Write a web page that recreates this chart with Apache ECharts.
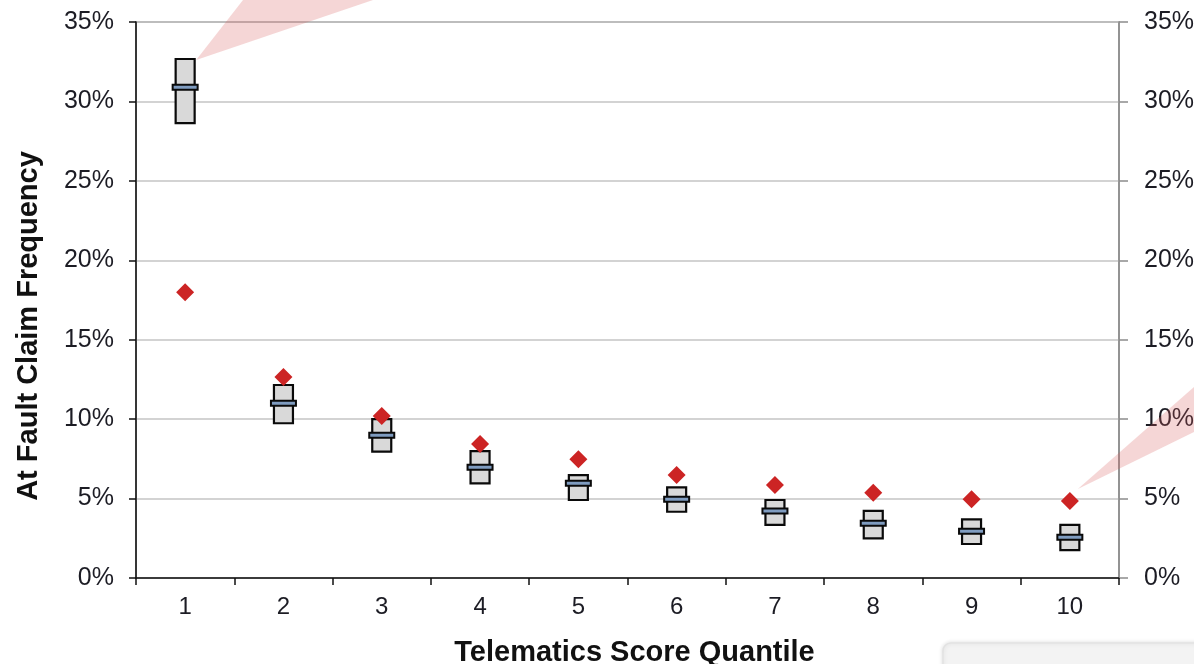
<!DOCTYPE html>
<html>
<head>
<meta charset="utf-8">
<script src="https://cdn.jsdelivr.net/npm/echarts@6/dist/echarts.min.js"></script>
<style>
html,body{margin:0;padding:0;background:#fff;}
#chart{width:1194px;height:664px;}
</style>
</head>
<body>
<div id="chart"></div>
<script>
// ---- data (values in %) ----
var categories = ['1','2','3','4','5','6','7','8','9','10'];
var meanVals   = [30.9, 11.0, 8.98, 6.97, 5.96, 4.95, 4.22, 3.44, 2.94, 2.56];
var lowVals    = [28.64, 9.74, 7.95, 5.96, 4.91, 4.17, 3.34, 2.50, 2.14, 1.76];
var highVals   = [32.67, 12.15, 10.0, 7.99, 6.48, 5.71, 4.91, 4.22, 3.69, 3.34];
var markerVals = [17.98, 12.65, 10.2, 8.44, 7.47, 6.48, 5.85, 5.37, 4.95, 4.85];
var yTicks = { min: 0, max: 35, interval: 5 };

var FONT = 'Liberation Sans, Arial, sans-serif';
var boxData = categories.map(function (c, i) { return [i, lowVals[i], highVals[i], meanVals[i]]; });

var chart = echarts.init(document.getElementById('chart'));
chart.setOption({
  animation: false,
  backgroundColor: '#fff',
  grid: { left: 136, right: 75, top: 22, bottom: 86, outerBoundsMode: 'none', containLabel: false,
          show: true, borderColor: '#8c8c8c', borderWidth: 1.5, backgroundColor: 'transparent' },
  xAxis: {
    type: 'category', data: categories, boundaryGap: true,
    name: 'Telematics Score Quantile', nameLocation: 'middle', nameGap: 60,
    nameTextStyle: { fontFamily: FONT, fontWeight: 'bold', fontSize: 29, color: '#111', padding: [0, 0, 0, 14] },
    axisLine: { lineStyle: { color: '#111', width: 1.5 } },
    axisTick: { show: true, length: 7, interval: 0, lineStyle: { color: '#111', width: 1.5 } },
    axisLabel: { fontFamily: FONT, fontSize: 24, color: '#1c1c24', margin: 17 },
    splitLine: { show: false }
  },
  yAxis: [{
    type: 'value', min: yTicks.min, max: yTicks.max, interval: yTicks.interval, position: 'left',
    name: 'At Fault Claim Frequency', nameLocation: 'middle', nameGap: 93,
    nameTextStyle: { fontFamily: FONT, fontWeight: 'bold', fontSize: 29, color: '#111', padding: [0, 52, 0, 0] },
    axisLine: { show: true, lineStyle: { color: '#111', width: 1.5 } },
    axisTick: { show: true, length: 7, lineStyle: { color: '#111', width: 1.5 } },
    axisLabel: { fontFamily: FONT, fontSize: 25, color: '#1c1c24', margin: 22, formatter: '{value}%' },
    splitLine: { show: true, lineStyle: { color: '#c4c4c4', width: 1.5 } }
  }, {
    type: 'value', min: yTicks.min, max: yTicks.max, interval: yTicks.interval, position: 'right',
    axisLine: { show: true, lineStyle: { color: '#8c8c8c', width: 1.5 } },
    axisTick: { show: true, length: 9, lineStyle: { color: '#8c8c8c', width: 1.5 } },
    axisLabel: { fontFamily: FONT, fontSize: 25, color: '#1c1c24', margin: 25, formatter: '{value}%' },
    splitLine: { show: false }
  }],
  series: [{
    type: 'custom',
    data: boxData,
    encode: { x: 0, y: [1, 2, 3] },
    z: 3,
    renderItem: function (params, api) {
      var x = api.value(0);
      var lo = api.coord([x, api.value(1)]);
      var hi = api.coord([x, api.value(2)]);
      var mid = api.coord([x, api.value(3)]);
      var bw = 19, mw = 25, mh = 5;
      return {
        type: 'group',
        children: [{
          type: 'rect',
          shape: { x: lo[0] - bw / 2, y: hi[1], width: bw, height: lo[1] - hi[1] },
          style: { fill: '#d9d9d9', stroke: '#0a0a0a', lineWidth: 2.2 }
        }, {
          type: 'rect',
          shape: { x: mid[0] - mw / 2, y: mid[1] - mh / 2, width: mw, height: mh },
          style: { fill: '#7f9cc0', stroke: '#0a0a0a', lineWidth: 2 }
        }]
      };
    }
  }, {
    type: 'scatter',
    data: markerVals,
    symbol: 'diamond',
    symbolSize: [18, 18],
    z: 4,
    itemStyle: { color: '#cc2424', opacity: 1 }
  }]
});

// decorative callout wedges and corner panel (not data marks)
function drawDecor() {
  var p1 = chart.convertToPixel({ xAxisIndex: 0, yAxisIndex: 0 }, [0, highVals[0]]);
  var p2 = chart.convertToPixel({ xAxisIndex: 0, yAxisIndex: 0 }, [9, markerVals[9]]);
  var tip1 = [p1[0] + 11, p1[1] + 1];
  var tip2 = [p2[0] + 8, p2[1] - 12];
  chart.setOption({
    graphic: [{
      type: 'polygon', z: 10, silent: true,
      shape: { points: [tip1, [243, 0], [373, 0]] },
      style: { fill: 'rgba(215,90,90,0.25)' }
    }, {
      type: 'polygon', z: 10, silent: true,
      shape: { points: [tip2, [1194, 387], [1194, 432]] },
      style: { fill: 'rgba(215,90,90,0.25)' }
    }, {
      type: 'rect', z: 10, silent: true,
      shape: { x: 943, y: 643, width: 270, height: 40, r: 8 },
      style: { fill: '#f3f3f3', stroke: '#e2e2e2', lineWidth: 1.5, shadowBlur: 4, shadowColor: 'rgba(0,0,0,0.12)' }
    }]
  });
}
drawDecor();
</script>
</body>
</html>
